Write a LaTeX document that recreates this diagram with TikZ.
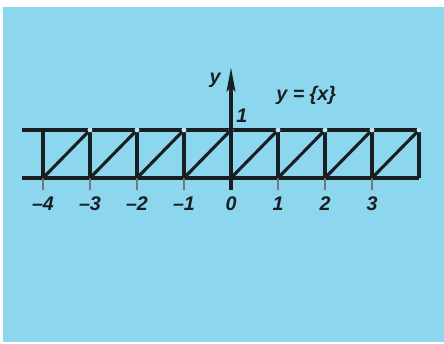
\documentclass[tikz,border=0pt]{standalone}
\usepackage{fontspec}
\setmainfont{Liberation Sans}
\usetikzlibrary{arrows.meta}
\definecolor{paper}{RGB}{140,214,238}
\definecolor{ink}{RGB}{25,30,35}
\begin{document}
\begin{tikzpicture}[
  x=1.175cm, y=1.2cm,
  font=\fontsize{14}{16}\selectfont\bfseries\itshape,
  thick line/.style={line width=2.2pt, ink},
  tick line/.style={line width=1.3pt, ink!60},
  gap/.style={circle, fill=paper!60!white, inner sep=0pt, minimum size=3.5pt},
  lbl/.style={inner sep=1pt, text=ink}
]
\useasboundingbox (-4.915,-3.458) rectangle (4.532,3.708);
\fill[white] (-4.915,-3.458) rectangle (4.532,3.708);
\fill[paper] (-4.85,-3.42) rectangle (4.532,3.56);

% lines y = 0 and y = 1
\draw[thick line] (-4.45,1) -- (4,1);
\draw[thick line] (-4.45,0) -- (4,0);

% ticks and labels
\foreach \k in {-4,...,3} {
  \draw[tick line] (\k,0) -- (\k,-0.25);
  \node[lbl] (t\k) at (\k,-0.53) {\ifnum\k<0 \textendash\the\numexpr-\k\relax\else\k\fi};
}

% teeth of y = {x}
\foreach \k in {-4,...,3} {
  \draw[thick line] (\k,0) -- (\k,1);
  \draw[thick line] (\k,0) -- (\k+1,1);
}
\draw[thick line] (4,0) -- (4,1);
\foreach \k in {-3,...,4}
  \node[gap] (o\k) at (\k,1) {};

% y axis
\draw[thick line, -{Stealth[length=6mm, width=2.2mm, inset=1.2mm]}] (0,-0.25) -- (0,2.3);
\node[lbl] (ylab) at (-0.34,2.04) {y};
\node[lbl] (one) at (0.23,1.3) {1};
\node[lbl] (fn) at (1.6,1.73) {y = \{x\}};
\end{tikzpicture}
\end{document}
